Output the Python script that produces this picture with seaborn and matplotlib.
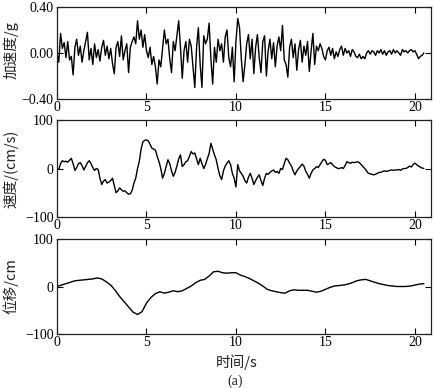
import numpy as np
import pandas as pd
import matplotlib
matplotlib.use("Agg")
import matplotlib.pyplot as plt
import seaborn as sns

# ---------------- data ----------------
dt_acc = 0.1
acc = [
    0.00, -0.08, 0.17, 0.04, 0.09, -0.04, 0.10, -0.06, -0.03, -0.19,
    0.05, 0.12, -0.02, 0.06, -0.08, 0.02, 0.10, 0.18, -0.06, 0.04,
    -0.10, 0.08, -0.04, 0.03, -0.07, 0.05, 0.11, -0.02, 0.06, -0.05,
    0.04, -0.09, -0.18, 0.05, 0.10, -0.03, 0.15, -0.06, 0.02, 0.08,
    -0.17, 0.05, 0.10, 0.14, 0.08, 0.28, 0.12, 0.20, 0.05, 0.16,
    0.02, -0.04, 0.05, -0.10, -0.03, -0.12, -0.27, -0.06, -0.12, 0.04,
    0.20, 0.08, 0.12, -0.05, -0.17, 0.10, 0.02, 0.15, 0.28, 0.05,
    -0.22, 0.02, 0.10, -0.08, 0.12, 0.06, -0.12, -0.30, 0.05, 0.22,
    -0.10, -0.30, 0.15, 0.08, 0.12, 0.26, -0.05, -0.27, 0.05, -0.08,
    0.12, 0.02, 0.08, -0.08, 0.14, 0.20, -0.04, -0.12, 0.05, -0.25,
    0.10, 0.30, 0.22, -0.05, -0.25, -0.10, 0.08, 0.16, -0.05, 0.12,
    -0.18, 0.05, 0.16, -0.04, -0.17, 0.10, 0.15, -0.20, 0.02, 0.12,
    -0.05, 0.09, -0.12, 0.06, 0.14, 0.02, 0.24, -0.06, -0.10, -0.21,
    0.05, 0.12, -0.04, 0.08, -0.15, 0.03, 0.11, -0.08, 0.06, -0.02,
    0.10, -0.16, 0.02, 0.17, -0.10, 0.06, 0.02, 0.08, 0.04, -0.03,
    -0.06, 0.02, 0.05, -0.02, 0.04, -0.05, 0.01, -0.03, 0.03, 0.06,
    -0.02, 0.04, 0.00, 0.02, -0.03, 0.03, 0.01, -0.03, -0.04, -0.01,
    -0.05, -0.03, -0.05, 0.00, 0.02, -0.01, 0.02, 0.01, -0.02, 0.02,
    0.00, 0.03, -0.01, 0.02, -0.02, 0.01, 0.02, -0.01, 0.03, 0.00,
    0.02, 0.00, -0.02, 0.03, 0.01, 0.02, 0.00, 0.02, 0.03, 0.01,
    0.02, -0.01, -0.05, -0.03, -0.02, 0.00,
]

dt_vel = 0.1
vel = [
    0, -2, 10, 16, 14, 15, 13, 17, 21, 10,
    -4, 2, 10, 12, 6, -3, 4, 12, 16, 10,
    2, -4, 0, -2, -20, -33, -26, -23, -30, -28,
    -25, -20, -35, -50, -46, -40, -44, -47, -46, -50,
    -53, -52, -45, -30, -20, 0, 15, 40, 55, 58,
    59, 57, 50, 42, 40, 38, 25, 14, 0, -20,
    -10, 4, 18, 10, -5, -16, -8, 5, 20, 28,
    4, 8, 14, 16, 25, 35, 30, 32, 20, 8,
    21, 10, 0, 8, 20, 31, 52, 40, 28, 18,
    0, -15, -23, -5, 5, 11, 16, 8, -10, -20,
    -38, 8, -5, -10, -16, -25, -30, -18, -10, -20,
    -33, -25, -18, -13, -25, -35, -20, -10, -12, -8,
    -5, -3, -8, -6, -10, 0, -2, 10, 21, 18,
    11, 5, -5, -13, -5, 0, 4, 9, 5, -6,
    -12, -20, -10, -3, 0, 4, 2, 8, 14, 19,
    17, 8, 10, 12, 8, 4, 2, 0, 0, 2,
    0, 6, 14, 12, 11, 13, 12, 13, 14, 12,
    8, 4, 0, -5, -10, -11, -12, -13, -12, -10,
    -8, -8, -6, -5, -6, -5, -4, -3, -4, -3,
    -3, -2, -4, -1, 0, 0, 2, 5, 3, 8,
    11, 8, 5, 3, 1, 0,
]

dt_disp = 0.25
disp = [
    0, 3, 6, 9, 12, 13, 14, 15, 16, 18, 16, 10,
    3, -8, -21, -32, -43, -54, -59, -53,
    -35, -23, -15, -11, -14, -12, -9, -11,
    -9, -4, 1, 8, 13, 15, 22, 31,
    32, 29, 28, 29, 29, 24, 21, 17,
    12, 7, 1, -6, -9, -11, -13, -14,
    -9, -7, -8, -8, -8, -10, -12, -10,
    -6, -2, 1, 2, 3, 5, 8, 12,
    14, 15, 12, 9, 6, 4, 2, 1,
    0, 0, 0, 1, 3, 5, 6,
]

x_ticks = [0, 5, 10, 15, 20]
acc_ticks = [-0.40, 0.00, 0.40]
vd_ticks = [-100, 0, 100]
ylabels = ["加速度/g", "速度/(cm/s)", "位移/cm"]
xlabel = "时间/s"
caption = "(a)"

t_acc = np.arange(len(acc)) * dt_acc
t_vel = np.arange(len(vel)) * dt_vel
t_disp = np.arange(len(disp)) * dt_disp

# ---------------- style ----------------
sns.set_style("ticks")
plt.rcParams['font.family'] = ['Liberation Serif', 'Noto Sans CJK SC', 'DejaVu Sans']
plt.rcParams['axes.unicode_minus'] = True

fig = plt.figure(figsize=(4.35, 3.88), dpi=100)
W, H = 435, 388

def add_axes(left, top, right, bottom):
    return fig.add_axes([left / W, 1 - bottom / H, (right - left) / W, (bottom - top) / H])

ax1 = add_axes(57, 7, 431, 99)
ax2 = add_axes(57, 120, 431, 217)
ax3 = add_axes(57, 239, 431, 334)

series = [
    (ax1, t_acc, acc, acc_ticks, (-0.40, 0.40), lambda v: f"{v:.2f}".replace("-", "\u2212")),
    (ax2, t_vel, vel, vd_ticks, (-100, 100), lambda v: f"{int(v)}".replace("-", "\u2212")),
    (ax3, t_disp, disp, vd_ticks, (-100, 100), lambda v: f"{int(v)}".replace("-", "\u2212")),
]

for ax, t, y, yt, ylim, fmt in series:
    df = pd.DataFrame({"t": t, "y": y})
    sns.lineplot(data=df, x="t", y="y", ax=ax, color="black", linewidth=1.0)
    ax.set_xlim(0, 20.9)
    ax.set_ylim(*ylim)
    ax.set_xticks(x_ticks)
    ax.set_xticklabels([str(v) for v in x_ticks])
    ax.set_yticks(yt)
    ax.set_yticklabels([fmt(v) for v in yt])
    ax.set_xlabel("")
    ax.set_ylabel("")
    ax.tick_params(direction="in", top=True, right=True, length=4, width=0.8,
                   labelsize=10, pad=2.5, colors="black")
    ax.tick_params(axis="x", pad=1.5)
    for s in ax.spines.values():
        s.set_visible(True)
        s.set_linewidth(0.9)
        s.set_color("#222222")

label_y = [50, 169, 286]
for lab, yy in zip(ylabels, label_y):
    fig.text(11 / W, 1 - yy / H, lab, rotation=90, ha="center", va="center",
             fontsize=10.5, family=['Noto Sans CJK SC', 'DejaVu Sans'], color="#222222")

fig.text(237 / W, 1 - 362 / H, xlabel, ha="center", va="center", fontsize=10.5,
         family=['Noto Sans CJK SC', 'DejaVu Sans'], color="#222222")
fig.text(235 / W, 1 - 381 / H, caption, ha="center", va="center", fontsize=10,
         family=['Liberation Serif'], color="#222222")

fig.savefig("out.png", dpi=100, facecolor="white")
